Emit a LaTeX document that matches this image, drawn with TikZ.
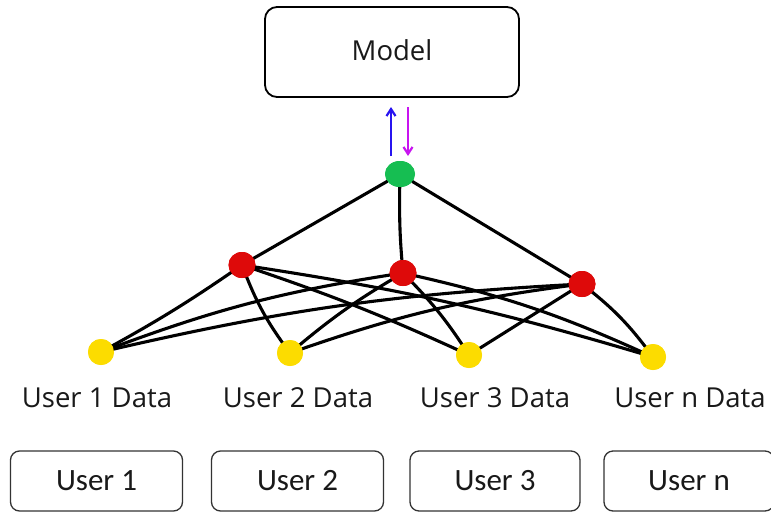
\documentclass[tikz,border=0pt]{standalone}
\usepackage{fontspec}
\setmainfont{Open Sans}
\newfontfamily\boxfont{Carlito}
\usetikzlibrary{arrows.meta,shapes.geometric}
\definecolor{gdot}{RGB}{22,190,82}
\definecolor{rdot}{RGB}{222,10,10}
\definecolor{ydot}{RGB}{252,220,0}
\definecolor{upblue}{RGB}{40,20,240}
\definecolor{downmag}{RGB}{200,20,240}
\tikzset{
  rbox/.style={draw, line width=1.8pt, rounded corners=12pt, inner sep=0pt},
  ubox/.style={draw=black!80, line width=1.3pt, rounded corners=9pt, inner sep=0pt, minimum height=60pt},
  dotg/.style={ellipse, fill=gdot, minimum width=30pt, minimum height=26pt, inner sep=0pt},
  dotr/.style={ellipse, fill=rdot, minimum width=27pt, minimum height=26pt, inner sep=0pt},
  doty/.style={ellipse, fill=ydot, minimum width=26pt, minimum height=26pt, inner sep=0pt},
  link/.style={line width=3.1pt, line cap=round},
  lab/.style={font=\fontsize{27.5}{30}\selectfont, text=black!90},
  ulab/.style={font=\boxfont\fontsize{31}{34}\selectfont, text=black!90},
}
\begin{document}
\begin{tikzpicture}[x=1pt,y=-1pt]
\useasboundingbox (0,0) rectangle (771,512);
\fill[white] (0,0) rectangle (771,512);
% model
\node[rbox, minimum width=254pt, minimum height=90pt] (model) at (392,52) {};
\node[font=\fontsize{27.5}{30}\selectfont, text=black!90] (modeltxt) at (392,50) {Model};
% dots
\node[dotg] (g) at (400,174) {};
\node[dotr] (r1) at (242,265) {};
\node[dotr] (r2) at (403,273) {};
\node[dotr] (r3) at (582,284) {};
\node[doty] (y1) at (101,352) {};
\node[doty] (y2) at (290,353) {};
\node[doty] (y3) at (469,355) {};
\node[doty] (y4) at (653,357) {};
% arrows
\coordinate (ab) at (391,156);
\coordinate (at) at (391,107);
\coordinate (mt) at (408,107);
\coordinate (mb) at (408,156);
\draw[upblue, line width=2.2pt, -{Straight Barb[length=7pt,width=9pt]}] (ab) -- (at);
\draw[downmag, line width=2.2pt, -{Straight Barb[length=7pt,width=9pt]}] (mt) -- (mb);
% links green to red
\draw[link] (g) -- (r1.center);
\draw[link] (g) to[bend right=3] (r2.center);
\draw[link] (g) -- (r3.center);
% red to yellow
\draw[link] (r1.center) to[bend left=3] (y1.center);
\draw[link] (r1.center) to[bend right=8] (y2.center);
\draw[link] (r1.center) to[bend left=3] (y3.center);
\draw[link] (r1.center) to[bend left=4] (y4.center);
\draw[link] (r2.center) to[bend right=6] (y1.center);
\draw[link] (r2.center) to[bend right=5] (y2.center);
\draw[link] (r2.center) to[bend left=6] (y3.center);
\draw[link] (r2.center) to[bend left=6] (y4.center);
\draw[link] (r3.center) to[bend right=5] (y1.center);
\draw[link] (r3.center) to[bend right=6] (y2.center);
\draw[link] (r3.center) -- (y3.center);
\draw[link] (r3.center) to[bend left=8] (y4.center);
% redraw dots on top
\node[dotg] at (g) {};
\node[dotr] at (r1) {};
\node[dotr] at (r2) {};
\node[dotr] at (r3) {};
\node[doty] at (y1) {};
\node[doty] at (y2) {};
\node[doty] at (y3) {};
\node[doty] at (y4) {};
% data labels
\node[lab] (d1) at (97,398) {User 1 Data};
\node[lab] (d2) at (298,398) {User 2 Data};
\node[lab] (d3) at (495,398) {User 3 Data};
\node[lab] (d4) at (690,398) {User n Data};
% user boxes
\node[ubox, minimum width=172pt] (u1) at (96.5,481) {};
\node[ubox, minimum width=172pt] (u2) at (297.5,481) {};
\node[ubox, minimum width=170pt] (u3) at (495,481) {};
\node[ubox, minimum width=170pt] (u4) at (689,481) {};
\node[ulab] at (u1) {User 1};
\node[ulab] at (u2) {User 2};
\node[ulab] at (u3) {User 3};
\node[ulab] at (u4) {User n};
\end{tikzpicture}
\end{document}
